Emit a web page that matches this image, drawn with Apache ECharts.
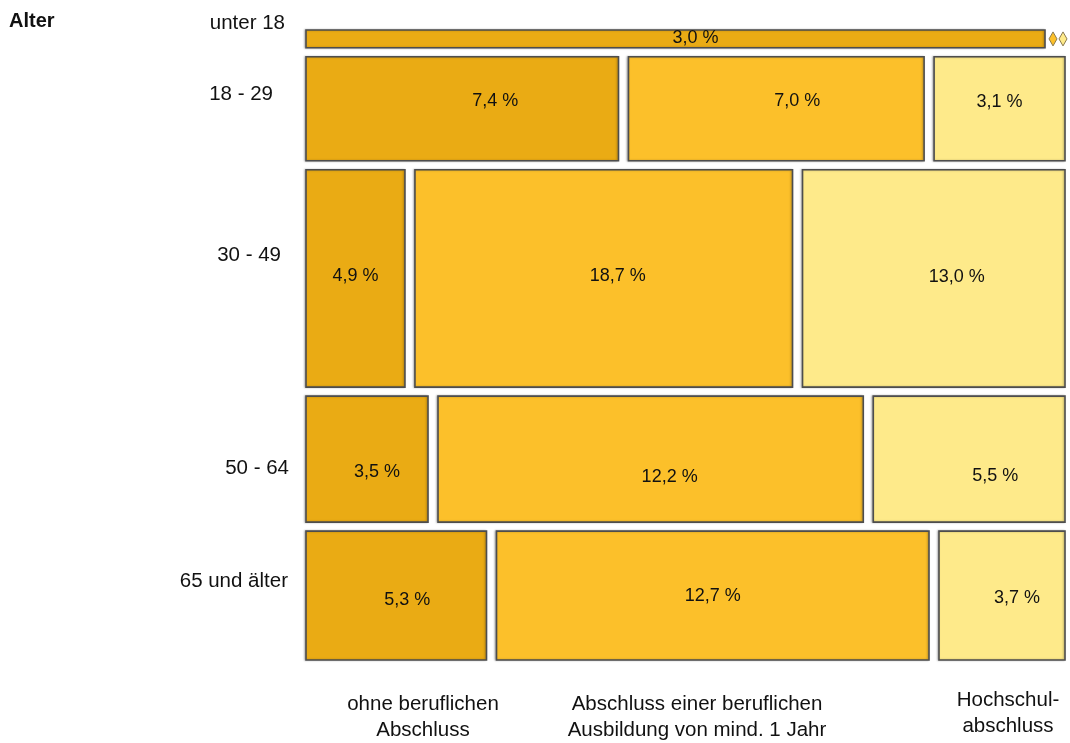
<!DOCTYPE html>
<html>
<head>
<meta charset="utf-8">
<title>Alter und beruflicher Abschluss</title>
<script src="https://cdn.jsdelivr.net/npm/echarts@6/dist/echarts.min.js"></script>
<style>
  html, body { margin: 0; padding: 0; background: #fff; }
  #chart { width: 1070px; height: 743px; }
</style>
</head>
<body>
<div id="chart"></div>
<script>
// Age groups (rows) and qualification groups (columns)
const ageGroups = ['unter 18', '18 - 29', '30 - 49', '50 - 64', '65 und älter'];
const qualifications = [
  'ohne beruflichen\nAbschluss',
  'Abschluss einer beruflichen\nAusbildung von mind. 1 Jahr',
  'Hochschul-\nabschluss'
];

// Share of total population in percent, one value per age group
const ohneAbschluss    = [3.0, 7.4, 4.9, 3.5, 5.3];
const berufsausbildung = [0.0, 7.0, 18.7, 12.2, 12.7];
const hochschule       = [0.0, 3.1, 13.0, 5.5, 3.7];

const seriesValues = [ohneAbschluss, berufsausbildung, hochschule];
const colors = ['#EAAB14', '#FCC02A', '#FEEA8A'];

// Layout constants (pixels)
const ROW_GAP = 9;
const COL_GAP = 10;
// Hand-placed nudges for the value labels [dx, dy] per row and column
const labelNudge = [
  [[20, -1], [0, 0], [0, 0]],
  [[33, -8], [21, -8], [0, -7]],
  [[0, -2], [14, -2], [23, -1]],
  [[10, 13], [19, 18], [26, 17]],
  [[11, 4], [0, 0], [15, 2]]
];

const rowTotals = ageGroups.map((_, r) => seriesValues.reduce((s, arr) => s + arr[r], 0));
const grandTotal = rowTotals.reduce((a, b) => a + b, 0);

// One datum per cell: [row, column, value]
const cells = [];
ageGroups.forEach((_, r) => {
  seriesValues.forEach((arr, c) => cells.push([r, c, arr[r]]));
});

const fmt = v => v.toFixed(1).replace('.', ',') + ' %';

function renderItem(params, api) {
  const r = api.value(0), c = api.value(1), v = api.value(2);
  const topLeft = api.coord([0, 0]);
  const bottomRight = api.coord([1, grandTotal]);
  const totalW = bottomRight[0] - topLeft[0];
  const totalH = bottomRight[1] - topLeft[1];
  const innerH = totalH - ROW_GAP * (ageGroups.length - 1);
  const innerW = totalW - COL_GAP * (qualifications.length - 1);

  let y = topLeft[1];
  for (let i = 0; i < r; i++) y += rowTotals[i] / grandTotal * innerH + ROW_GAP;
  const h = rowTotals[r] / grandTotal * innerH;

  let x = topLeft[0];
  for (let j = 0; j < c; j++) x += seriesValues[j][r] / rowTotals[r] * innerW + COL_GAP;
  const w = v / rowTotals[r] * innerW;

  const cy = y + h / 2;
  if (v === 0) {
    // empty cell: small marker in the gap
    const mx = x - 2;
    return {
      type: 'polygon',
      shape: { points: [[mx, cy - 7], [mx + 4, cy], [mx, cy + 7], [mx - 4, cy]] },
      style: { fill: colors[c], stroke: '#8a7a50', lineWidth: 1 }
    };
  }
  const nudge = labelNudge[r][c];
  return {
    type: 'group',
    children: [
      {
        type: 'rect',
        shape: { x: x, y: y, width: w, height: h },
        style: {
          fill: colors[c], stroke: '#4d4d4d', lineWidth: 1.6,
          shadowColor: 'rgba(0,0,0,0.25)', shadowBlur: 2, shadowOffsetX: -1, shadowOffsetY: 0
        }
      },
      {
        type: 'text',
        z2: 10,
        style: {
          text: fmt(v),
          x: x + w / 2 + nudge[0],
          y: cy + nudge[1],
          align: 'center',
          verticalAlign: 'middle',
          fontSize: 18,
          fontFamily: '"Liberation Sans", Arial, sans-serif',
          fill: '#111'
        }
      }
    ]
  };
}

const FONT = '"Liberation Sans", Arial, sans-serif';
const rowLabelPos = [[285, 23], [273, 94], [281, 255], [289, 468], [288, 581]];
const colLabelPos = [[423, 717], [697, 717], [1008, 713]];

const graphics = [
  {
    type: 'text', left: 9, top: 11,
    style: { text: 'Alter', fontSize: 20, fontWeight: 'bold', fontFamily: FONT, fill: '#111' }
  }
];
ageGroups.forEach((name, i) => {
  graphics.push({
    type: 'text',
    x: rowLabelPos[i][0], y: rowLabelPos[i][1],
    style: { text: name, align: 'right', verticalAlign: 'middle', fontSize: 20.5, fontFamily: FONT, fill: '#111' }
  });
});
qualifications.forEach((name, i) => {
  graphics.push({
    type: 'text',
    x: colLabelPos[i][0], y: colLabelPos[i][1],
    style: {
      text: name, align: 'center', verticalAlign: 'middle', lineHeight: 26,
      fontSize: 20.5, fontFamily: FONT, fill: '#111'
    }
  });
});

const chart = echarts.init(document.getElementById('chart'), null, { renderer: 'canvas' });
chart.setOption({
  animation: false,
  backgroundColor: '#fff',
  grid: { left: 306, right: 5, top: 30, bottom: 83 },
  xAxis: { type: 'value', min: 0, max: 1, show: false },
  yAxis: { type: 'value', min: 0, max: grandTotal, inverse: true, show: false },
  graphic: graphics,
  series: [{
    type: 'custom',
    renderItem: renderItem,
    data: cells,
    clip: false
  }]
});
</script>
</body>
</html>
